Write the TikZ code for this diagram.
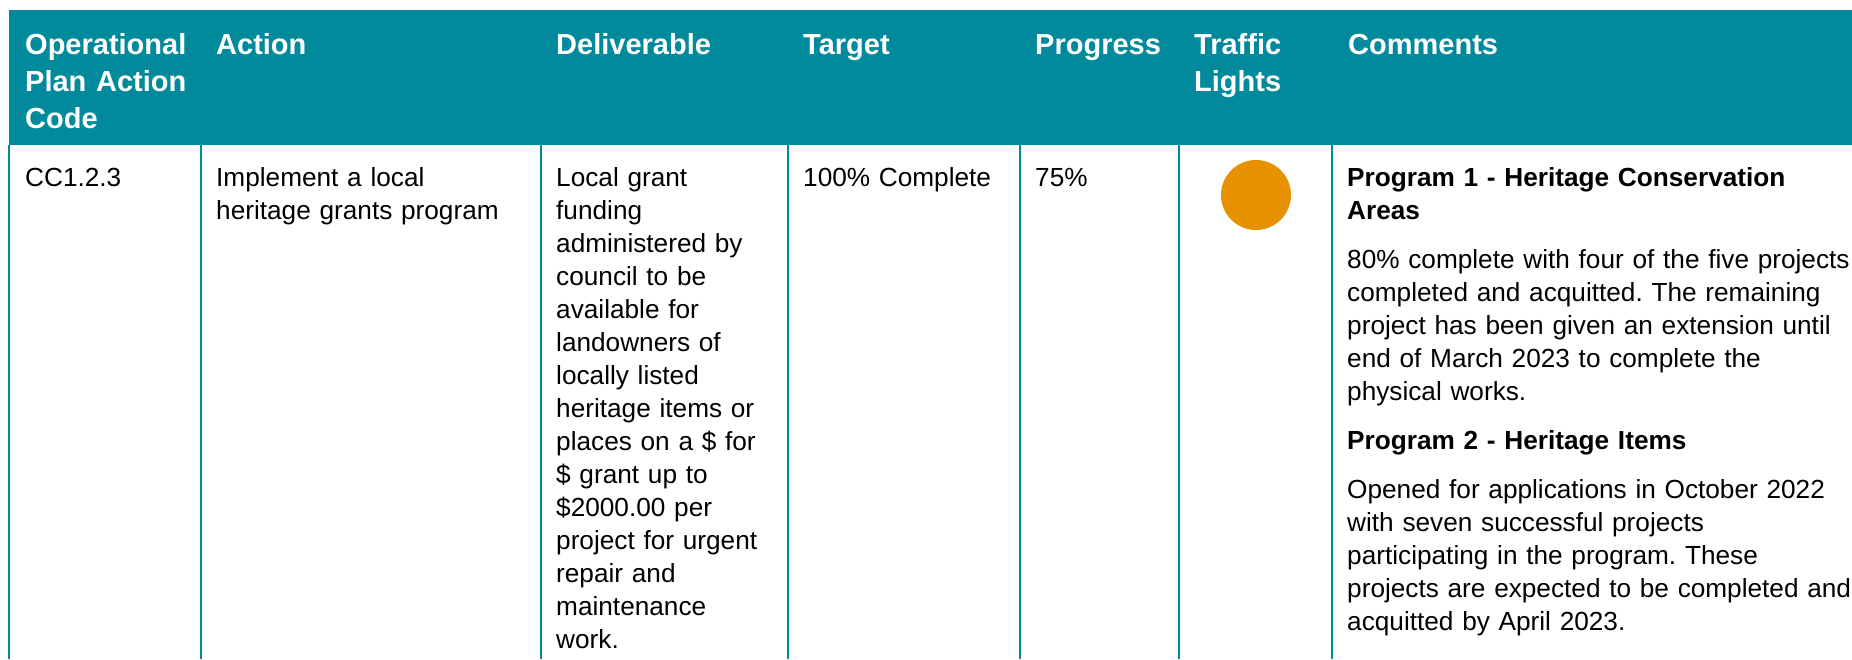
\documentclass[tikz,border=0pt]{standalone}
\usepackage{fontspec}
\setmainfont{Liberation Sans}
\frenchspacing
\definecolor{hdrteal}{RGB}{0,138,155}
\definecolor{lightorange}{RGB}{230,146,0}
\begin{document}
\begin{tikzpicture}[x=1pt,y=-1pt,
	hdr/.style={anchor=base west,inner sep=0pt,text=white,text width=300pt,align=left,
		font={\fontsize{29}{37}\selectfont\bfseries}},
	cell/.style={anchor=base west,inner sep=0pt,text=black,text width=700pt,align=left,
		font={\fontsize{26.2}{33}\selectfont}},
	rule/.style={draw=hdrteal,line width=1.2pt}]
	\useasboundingbox (0,0) rectangle (1852,659);
	%\draw[lightgray] (0,0) grid[step=100] (1852,659);
	\fill[hdrteal] (8.5,10) rectangle (1852,145);
	% column rules
	\coordinate (c0) at (9,145);
	\coordinate (c1) at (201,145);
	\coordinate (c2) at (541,145);
	\coordinate (c3) at (788,145);
	\coordinate (c4) at (1020,145);
	\coordinate (c5) at (1179,145);
	\coordinate (c6) at (1332,145);
	\draw[rule] (c0) -- (9,659);
	\draw[rule] (c1) -- (201,659);
	\draw[rule] (c2) -- (541,659);
	\draw[rule] (c3) -- (788,659);
	\draw[rule] (c4) -- (1020,659);
	\draw[rule] (c5) -- (1179,659);
	\draw[rule] (c6) -- (1332,659);
	% header row
	\node[hdr] (hcode) at (25,54.5) {Operational\\Plan Action\\Code};
	\node[hdr] (haction) at (216,54.5) {Action};
	\node[hdr] (hdeliv) at (556,54.5) {Deliverable};
	\node[hdr] (htarget) at (803,54.5) {Target};
	\node[hdr] (hprogress) at (1035,54.5) {Progress};
	\node[hdr] (hlights) at (1194,54.5) {Traffic\\Lights};
	\node[hdr] (hcomments) at (1348,54.5) {Comments};
	% body row
	\node[cell] (code) at (25,186.5) {CC1.2.3};
	\node[cell] (action) at (216,186.5) {Implement a local\\heritage grants program};
	\node[cell] (deliv) at (556,186.5) {Local grant\\funding\\administered by\\council to be\\available for\\landowners of\\locally listed\\heritage items or\\places on a \$ for\\\$ grant up to\\\$2000.00 per\\project for urgent\\repair and\\maintenance\\work.};
	\node[cell] (target) at (803,186.5) {100\% Complete};
	\node[cell] (progress) at (1035,186.5) {75\%};
	\fill[lightorange] (1256,195) circle (35);
	\node[cell] (comments) at (1347,186.5) {\textbf{Program 1 - Heritage Conservation}\\
		\textbf{Areas}\\[16pt]
		80\% complete with four of the five projects\\
		completed and acquitted. The remaining\\
		project has been given an extension until\\
		end of March 2023 to complete the\\
		physical works.\\[16pt]
		\textbf{Program 2 - Heritage Items}\\[16pt]
		Opened for applications in October 2022\\
		with seven successful projects\\
		participating in the program. These\\
		projects are expected to be completed and\\
		acquitted by April 2023.};
\end{tikzpicture}
\end{document}
